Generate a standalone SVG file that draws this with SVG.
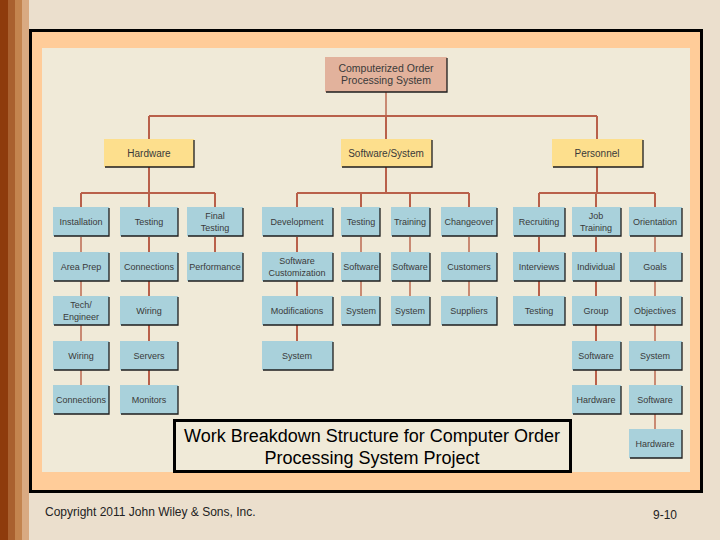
<svg xmlns="http://www.w3.org/2000/svg" width="720" height="540" viewBox="0 0 720 540">
<style>
.n{fill:#A9D1DB}
.sh{fill:none;stroke:#1e1e1e;stroke-width:1.3}
.t{font-family:"Liberation Sans",Arial,sans-serif;font-size:9px;fill:#3a3a3a;text-anchor:middle}
.l2{fill:#FDDF8D}
.top{fill:#E2B29C}
.c{fill:none;stroke:#B9604A;stroke-width:2}
.cl{fill:none;stroke:#C98A73;stroke-width:2}
.cap{font-family:"Liberation Sans",Arial,sans-serif;font-size:18px;fill:#000;text-anchor:middle}
.ft{font-family:"Liberation Sans",Arial,sans-serif;font-size:12px;fill:#222}
</style>
<rect x="0" y="0" width="720" height="540" fill="#EBDFCD"/>
<rect x="0" y="0" width="8" height="540" fill="#8E3B0C"/>
<rect x="8" y="0" width="7" height="540" fill="#A9602F"/>
<rect x="15" y="0" width="7" height="540" fill="#C3844F"/>
<rect x="22" y="0" width="7" height="540" fill="#D9AA82"/>
<rect x="30.5" y="30.5" width="671" height="461" fill="#FFCC99" stroke="#000" stroke-width="3"/>
<rect x="42" y="48" width="648" height="424" fill="#F0EAD8"/>
<g id="connectors">
<path class="cl" d="M386 92V116"/>
<path class="c" d="M149 116H597M149 116V139M386 116V139M597 116V139"/>
<path class="c" d="M149 167V207M81 193H215M81 193V207M215 193V207"/>
<path class="cl" d="M81 237V385"/>
<path class="c" d="M149 237V385"/>
<path class="c" d="M215 237V252"/>
<path class="c" d="M386 167V193M297 193H469M297 193V207M361 193V207M410 193V207M469 193V207"/>
<path class="c" d="M297 237V341"/>
<path class="cl" d="M361 237V296M410 237V296M469 237V296"/>
<path class="c" d="M597 167V193M539 193H655M539 193V207M596 193V207M655 193V207"/>
<path class="c" d="M539 237V296M596 237V385"/>
<path class="cl" d="M655 237V429"/>
</g>
<g id="root"><rect class="top" x="325" y="57" width="122" height="35"/><path class="sh" d="M447 58V92H326"/><text class="t" x="386" y="72" style="font-size:10.5px">Computerized Order</text><text class="t" x="386" y="84" style="font-size:10.5px">Processing System</text></g>
<g id="hardware"><rect class="l2" x="104" y="139" width="90" height="28"/><path class="sh" d="M194 140V167H105"/><text class="t" x="149" y="157" style="font-size:10px">Hardware</text></g>
<g id="software"><rect class="l2" x="341" y="139" width="91" height="28"/><path class="sh" d="M432 140V167H342"/><text class="t" x="386" y="157" style="font-size:10px">Software/System</text></g>
<g id="personnel"><rect class="l2" x="552" y="139" width="91" height="28"/><path class="sh" d="M643 140V167H553"/><text class="t" x="597" y="157" style="font-size:10px">Personnel</text></g>

<g id="installation"><rect class="n" x="53" y="207" width="56" height="29"/><path class="sh" d="M109 208V236H54"/><text class="t" x="81" y="225">Installation</text></g>
<g id="area-prep"><rect class="n" x="53" y="252" width="56" height="29"/><path class="sh" d="M109 253V281H54"/><text class="t" x="81" y="270">Area Prep</text></g>
<g id="tech-engineer"><rect class="n" x="53" y="296" width="56" height="29"/><path class="sh" d="M109 297V325H54"/><text class="t" x="81" y="308">Tech/</text><text class="t" x="81" y="320">Engineer</text></g>
<g id="hw-wiring"><rect class="n" x="53" y="341" width="56" height="29"/><path class="sh" d="M109 342V370H54"/><text class="t" x="81" y="359">Wiring</text></g>
<g id="hw-connections2"><rect class="n" x="53" y="385" width="56" height="29"/><path class="sh" d="M109 386V414H54"/><text class="t" x="81" y="403">Connections</text></g>

<g id="hw-testing"><rect class="n" x="120" y="207" width="58" height="29"/><path class="sh" d="M178 208V236H121"/><text class="t" x="149" y="225">Testing</text></g>
<g id="hw-connections"><rect class="n" x="120" y="252" width="58" height="29"/><path class="sh" d="M178 253V281H121"/><text class="t" x="149" y="270">Connections</text></g>
<g id="hw-wiring2"><rect class="n" x="120" y="296" width="58" height="29"/><path class="sh" d="M178 297V325H121"/><text class="t" x="149" y="314">Wiring</text></g>
<g id="servers"><rect class="n" x="120" y="341" width="58" height="29"/><path class="sh" d="M178 342V370H121"/><text class="t" x="149" y="359">Servers</text></g>
<g id="monitors"><rect class="n" x="120" y="385" width="58" height="29"/><path class="sh" d="M178 386V414H121"/><text class="t" x="149" y="403">Monitors</text></g>

<g id="final-testing"><rect class="n" x="187" y="207" width="56" height="29"/><path class="sh" d="M243 208V236H188"/><text class="t" x="215" y="219">Final</text><text class="t" x="215" y="231">Testing</text></g>
<g id="performance"><rect class="n" x="187" y="252" width="56" height="29"/><path class="sh" d="M243 253V281H188"/><text class="t" x="215" y="270">Performance</text></g>

<g id="development"><rect class="n" x="262" y="207" width="71" height="29"/><path class="sh" d="M333 208V236H263"/><text class="t" x="297" y="225">Development</text></g>
<g id="sw-customization"><rect class="n" x="262" y="252" width="71" height="29"/><path class="sh" d="M333 253V281H263"/><text class="t" x="297" y="264">Software</text><text class="t" x="297" y="276">Customization</text></g>
<g id="modifications"><rect class="n" x="262" y="296" width="71" height="29"/><path class="sh" d="M333 297V325H263"/><text class="t" x="297" y="314">Modifications</text></g>
<g id="dev-system"><rect class="n" x="262" y="341" width="71" height="29"/><path class="sh" d="M333 342V370H263"/><text class="t" x="297" y="359">System</text></g>

<g id="sw-testing"><rect class="n" x="341" y="207" width="39" height="29"/><path class="sh" d="M380 208V236H342"/><text class="t" x="361" y="225">Testing</text></g>
<g id="sw-testing-software"><rect class="n" x="341" y="252" width="39" height="29"/><path class="sh" d="M380 253V281H342"/><text class="t" x="361" y="270">Software</text></g>
<g id="sw-testing-system"><rect class="n" x="341" y="296" width="39" height="29"/><path class="sh" d="M380 297V325H342"/><text class="t" x="361" y="314">System</text></g>

<g id="training"><rect class="n" x="391" y="207" width="39" height="29"/><path class="sh" d="M430 208V236H392"/><text class="t" x="410" y="225">Training</text></g>
<g id="training-software"><rect class="n" x="391" y="252" width="39" height="29"/><path class="sh" d="M430 253V281H392"/><text class="t" x="410" y="270">Software</text></g>
<g id="training-system"><rect class="n" x="391" y="296" width="39" height="29"/><path class="sh" d="M430 297V325H392"/><text class="t" x="410" y="314">System</text></g>

<g id="changeover"><rect class="n" x="441" y="207" width="56" height="29"/><path class="sh" d="M497 208V236H442"/><text class="t" x="469" y="225">Changeover</text></g>
<g id="customers"><rect class="n" x="441" y="252" width="56" height="29"/><path class="sh" d="M497 253V281H442"/><text class="t" x="469" y="270">Customers</text></g>
<g id="suppliers"><rect class="n" x="441" y="296" width="56" height="29"/><path class="sh" d="M497 297V325H442"/><text class="t" x="469" y="314">Suppliers</text></g>

<g id="recruiting"><rect class="n" x="513" y="207" width="52" height="29"/><path class="sh" d="M565 208V236H514"/><text class="t" x="539" y="225">Recruiting</text></g>
<g id="interviews"><rect class="n" x="513" y="252" width="52" height="29"/><path class="sh" d="M565 253V281H514"/><text class="t" x="539" y="270">Interviews</text></g>
<g id="recr-testing"><rect class="n" x="513" y="296" width="52" height="29"/><path class="sh" d="M565 297V325H514"/><text class="t" x="539" y="314">Testing</text></g>

<g id="job-training"><rect class="n" x="572" y="207" width="49" height="29"/><path class="sh" d="M621 208V236H573"/><text class="t" x="596" y="219">Job</text><text class="t" x="596" y="231">Training</text></g>
<g id="individual"><rect class="n" x="572" y="252" width="49" height="29"/><path class="sh" d="M621 253V281H573"/><text class="t" x="596" y="270">Individual</text></g>
<g id="group"><rect class="n" x="572" y="296" width="49" height="29"/><path class="sh" d="M621 297V325H573"/><text class="t" x="596" y="314">Group</text></g>
<g id="job-software"><rect class="n" x="572" y="341" width="49" height="29"/><path class="sh" d="M621 342V370H573"/><text class="t" x="596" y="359">Software</text></g>
<g id="job-hardware"><rect class="n" x="572" y="385" width="49" height="29"/><path class="sh" d="M621 386V414H573"/><text class="t" x="596" y="403">Hardware</text></g>

<g id="orientation"><rect class="n" x="629" y="207" width="53" height="29"/><path class="sh" d="M682 208V236H630"/><text class="t" x="655" y="225">Orientation</text></g>
<g id="goals"><rect class="n" x="629" y="252" width="53" height="29"/><path class="sh" d="M682 253V281H630"/><text class="t" x="655" y="270">Goals</text></g>
<g id="objectives"><rect class="n" x="629" y="296" width="53" height="29"/><path class="sh" d="M682 297V325H630"/><text class="t" x="655" y="314">Objectives</text></g>
<g id="or-system"><rect class="n" x="629" y="341" width="53" height="29"/><path class="sh" d="M682 342V370H630"/><text class="t" x="655" y="359">System</text></g>
<g id="or-software"><rect class="n" x="629" y="385" width="53" height="29"/><path class="sh" d="M682 386V414H630"/><text class="t" x="655" y="403">Software</text></g>
<g id="or-hardware"><rect class="n" x="629" y="429" width="53" height="29"/><path class="sh" d="M682 430V458H630"/><text class="t" x="655" y="447">Hardware</text></g>

<g id="caption"><rect x="174.5" y="420.5" width="396" height="51" fill="#F0EAD8" stroke="#000" stroke-width="3"/><text class="cap" x="372" y="442">Work Breakdown Structure for Computer Order</text><text class="cap" x="372" y="464">Processing System Project</text></g>
<text class="ft" x="45" y="516">Copyright 2011 John Wiley &amp; Sons, Inc.</text>
<text class="ft" x="653" y="519">9-10</text>
</svg>
